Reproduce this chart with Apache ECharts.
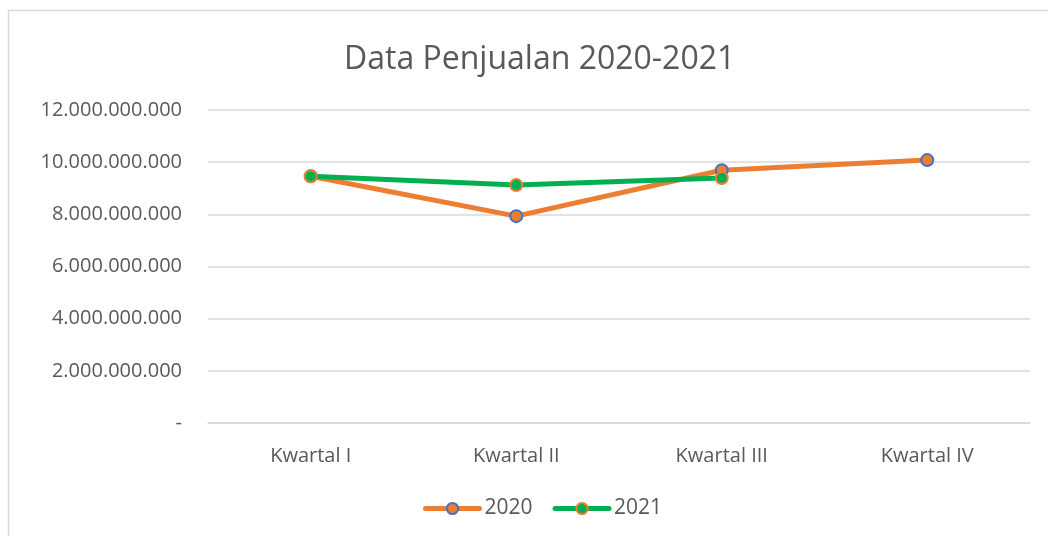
<!DOCTYPE html>
<html>
<head>
<meta charset="utf-8">
<script src="https://cdn.jsdelivr.net/npm/echarts@6/dist/echarts.min.js"></script>
<style>
  html, body { margin: 0; padding: 0; background: #fff; }
  #chart { width: 1048px; height: 536px; }
</style>
</head>
<body>
<div id="chart"></div>
<script>
const categories = ['Kwartal I', 'Kwartal II', 'Kwartal III', 'Kwartal IV'];
const sales2020 = [9460000000, 7930000000, 9690000000, 10080000000];
const sales2021 = [9460000000, 9120000000, 9390000000];
const yTicks = [0, 2000000000, 4000000000, 6000000000, 8000000000, 10000000000, 12000000000];

const fontFamily = 'Open Sans, Liberation Sans, sans-serif';
const textColor = '#595959';

const formatRupiah = (v) => {
    if (v === 0) return '-';
    return String(Math.round(v)).replace(/\B(?=(\d{3})+(?!\d))/g, '.');
};

const chart = echarts.init(document.getElementById('chart'), null, { renderer: 'canvas' });

const option = {
    animation: false,
    backgroundColor: '#fff',
    graphic: [
        {
            type: 'rect',
            shape: { x: 8.5, y: 10.5, width: 1060, height: 560 },
            style: { fill: 'none', stroke: '#d9d9d9', lineWidth: 1.5 },
            silent: true
        }
    ],
    title: {
        text: 'Data Penjualan 2020-2021',
        left: 339,
        top: 39,
        textStyle: {
            fontFamily: fontFamily,
            fontSize: 32,
            fontWeight: 'normal',
            color: textColor
        }
    },
    legend: {
        bottom: 12,
        left: 418,
        itemWidth: 54,
        itemHeight: 14,
        itemGap: 20,
        lineStyle: { width: 5, cap: 'round' },
        textStyle: { fontFamily: fontFamily, fontSize: 21, color: textColor },
        data: ['2020', '2021']
    },
    grid: {
        left: 208,
        right: 18,
        top: 110,
        bottom: 113,
        containLabel: false
    },
    xAxis: {
        type: 'category',
        data: categories,
        boundaryGap: true,
        axisLine: { lineStyle: { color: '#d9d9d9', width: 1.5 } },
        axisTick: { show: false },
        axisLabel: {
            fontFamily: fontFamily,
            fontSize: 20,
            color: textColor,
            margin: 23
        }
    },
    yAxis: {
        type: 'value',
        min: yTicks[0],
        max: yTicks[yTicks.length - 1],
        interval: yTicks[1] - yTicks[0],
        axisLine: { show: false },
        axisTick: { show: false },
        splitLine: { lineStyle: { color: '#d9d9d9', width: 1.5 } },
        axisLabel: {
            fontFamily: fontFamily,
            fontSize: 20,
            color: textColor,
            margin: 26,
            formatter: formatRupiah
        }
    },
    series: [
        {
            name: '2020',
            type: 'line',
            data: sales2020,
            symbol: 'circle',
            symbolSize: 12,
            lineStyle: { color: '#ed7d31', width: 5, cap: 'round' },
            itemStyle: { color: '#ed7d31', borderColor: '#4472c4', borderWidth: 2 }
        },
        {
            name: '2021',
            type: 'line',
            data: sales2021,
            symbol: 'circle',
            symbolSize: 12,
            lineStyle: { color: '#00b050', width: 5, cap: 'round' },
            itemStyle: { color: '#00b050', borderColor: '#ed7d31', borderWidth: 2 }
        }
    ]
};

chart.setOption(option);
window.addEventListener('resize', chart.resize);
</script>
</body>
</html>
